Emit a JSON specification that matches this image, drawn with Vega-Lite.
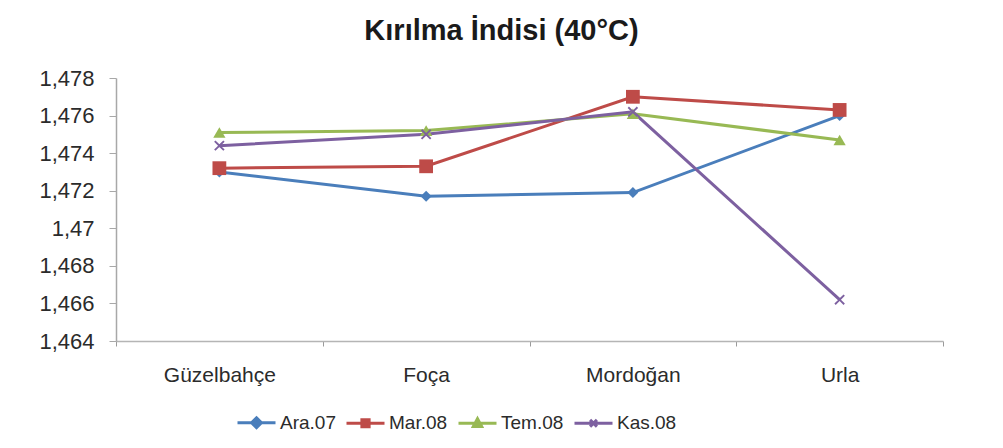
{
  "$schema": "https://vega.github.io/schema/vega-lite/v6.json",
  "width": 827,
  "height": 263,
  "autosize": {"type": "none"},
  "padding": {"left": 116, "top": 78, "right": 60, "bottom": 107},
  "background": "white",
  "config": {
    "locale": {"number": {"decimal": ",", "thousands": ".", "grouping": [3], "currency": ["", " TL"]}},
    "view": {"stroke": null},
    "font": "Liberation Sans",
    "axis": {"grid": false},
    "legend": {
      "orient": "none",
      "legendX": 120,
      "legendY": 324,
      "direction": "horizontal",
      "labelFontSize": 19,
      "labelColor": "#2B2B2B",
      "symbolSize": 1444,
      "symbolStrokeWidth": 3,
      "symbolOpacity": 1,
      "labelOffset": 3,
      "columnPadding": 4,
      "padding": 0
    }
  },
  "title": {
    "text": "Kırılma İndisi (40°C)",
    "fontSize": 29,
    "fontWeight": "bold",
    "color": "#1a1a1a",
    "anchor": "middle",
    "dx": -28,
    "offset": 21
  },
  "data": {
    "values": [
      {"istasyon": "Güzelbahçe", "donem": "Ara.07", "indis": 1.4730},
      {"istasyon": "Foça", "donem": "Ara.07", "indis": 1.4717},
      {"istasyon": "Mordoğan", "donem": "Ara.07", "indis": 1.4719},
      {"istasyon": "Urla", "donem": "Ara.07", "indis": 1.4760},
      {"istasyon": "Güzelbahçe", "donem": "Mar.08", "indis": 1.4732},
      {"istasyon": "Foça", "donem": "Mar.08", "indis": 1.4733},
      {"istasyon": "Mordoğan", "donem": "Mar.08", "indis": 1.4770},
      {"istasyon": "Urla", "donem": "Mar.08", "indis": 1.4763},
      {"istasyon": "Güzelbahçe", "donem": "Tem.08", "indis": 1.4751},
      {"istasyon": "Foça", "donem": "Tem.08", "indis": 1.4752},
      {"istasyon": "Mordoğan", "donem": "Tem.08", "indis": 1.4761},
      {"istasyon": "Urla", "donem": "Tem.08", "indis": 1.4747},
      {"istasyon": "Güzelbahçe", "donem": "Kas.08", "indis": 1.4744},
      {"istasyon": "Foça", "donem": "Kas.08", "indis": 1.4750},
      {"istasyon": "Mordoğan", "donem": "Kas.08", "indis": 1.4762},
      {"istasyon": "Urla", "donem": "Kas.08", "indis": 1.4662}
    ]
  },
  "encoding": {
    "x": {
      "field": "istasyon",
      "type": "nominal",
      "sort": ["Güzelbahçe", "Foça", "Mordoğan", "Urla"],
      "scale": {"type": "band", "paddingInner": 0, "paddingOuter": 0},
      "axis": {
        "title": null,
        "labelAngle": 0,
        "tickBand": "extent",
        "domainColor": "#B5B5B5",
        "domainWidth": 1.5,
        "tickColor": "#9A9A9A",
        "tickSize": 5,
        "labelFontSize": 21,
        "labelColor": "#2B2B2B",
        "labelPadding": 18
      }
    },
    "y": {
      "field": "indis",
      "type": "quantitative",
      "scale": {"domain": [1.464, 1.478], "nice": false, "zero": false},
      "axis": {
        "title": null,
        "values": [1.464, 1.466, 1.468, 1.47, 1.472, 1.474, 1.476, 1.478],
        "format": ".3~f",
        "domainColor": "#A8A8A8",
        "domainWidth": 1.5,
        "tickColor": "#A8A8A8",
        "tickSize": 7,
        "labelFontSize": 22,
        "labelColor": "#2B2B2B",
        "labelPadding": 15
      }
    },
    "color": {
      "field": "donem",
      "type": "nominal",
      "title": null,
      "scale": {
        "domain": ["Ara.07", "Mar.08", "Tem.08", "Kas.08"],
        "range": ["#4A7EBB", "#BE4B48", "#98B954", "#7D60A0"]
      }
    }
  },
  "layer": [
    {
      "mark": {"type": "line", "strokeWidth": 3}
    },
    {
      "transform": [{"filter": {"field": "donem", "equal": "Ara.07"}}],
      "mark": {"type": "point", "filled": true, "opacity": 1, "shape": "diamond", "size": 120}
    },
    {
      "transform": [{"filter": {"field": "donem", "equal": "Mar.08"}}],
      "mark": {"type": "point", "filled": true, "opacity": 1, "shape": "square", "size": 190}
    },
    {
      "transform": [{"filter": {"field": "donem", "equal": "Tem.08"}}],
      "mark": {"type": "point", "filled": true, "opacity": 1, "shape": "triangle-up", "size": 150}
    },
    {
      "transform": [{"filter": {"field": "donem", "equal": "Kas.08"}}],
      "mark": {
        "type": "point",
        "filled": true,
        "opacity": 1,
        "shape": "M-1,-0.75L-0.75,-1L0,-0.25L0.75,-1L1,-0.75L0.25,0L1,0.75L0.75,1L0,0.25L-0.75,1L-1,0.75L-0.25,0Z",
        "size": 110
      }
    },
    {
      "mark": {"type": "point", "filled": false, "opacity": 0, "strokeWidth": 3},
      "encoding": {
        "shape": {
          "field": "donem",
          "type": "nominal",
          "title": null,
          "scale": {
            "domain": ["Ara.07", "Mar.08", "Tem.08", "Kas.08"],
            "range": [
              "M-1,0H1M0,-0.26L0.26,0L0,0.26L-0.26,0Z",
              "M-1,0H1M-0.19,-0.19H0.19V0.19H-0.19Z",
              "M-1,0H1M0,-0.24L0.22,0.17H-0.22Z",
              "M-1,0H1M-0.18,-0.18L0.18,0.18M-0.18,0.18L0.18,-0.18"
            ]
          }
        }
      }
    }
  ]
}
